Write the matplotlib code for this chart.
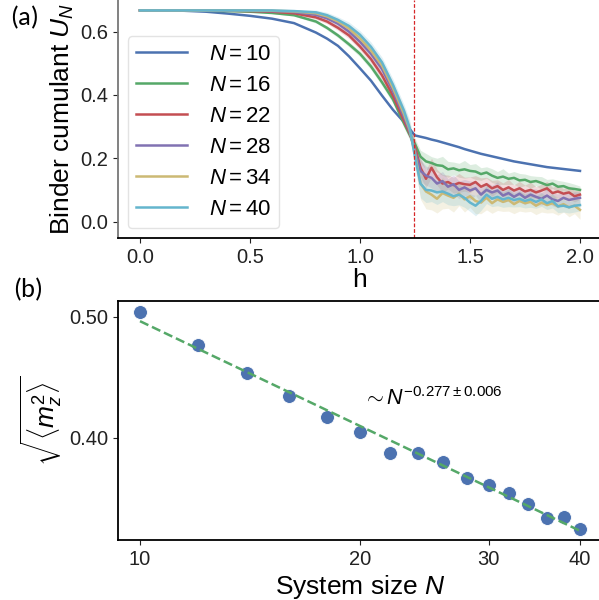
import numpy as np
import matplotlib
matplotlib.use("Agg")
import matplotlib.pyplot as plt
from matplotlib.ticker import FixedLocator, NullLocator, FixedFormatter

plt.rcParams['font.family'] = ['Liberation Sans', 'DejaVu Sans']
plt.rcParams['mathtext.fontset'] = 'custom'
plt.rcParams['mathtext.rm'] = 'Liberation Sans'
plt.rcParams['mathtext.it'] = 'Liberation Sans:italic'
plt.rcParams['mathtext.bf'] = 'Liberation Sans:bold'

# ---------------- data: panel (a) ----------------
h = [0.0, 0.1, 0.2, 0.3, 0.4, 0.5, 0.6, 0.7, 0.8, 0.85, 0.9, 0.95, 1.0, 1.05, 1.1, 1.15, 1.2, 1.225, 1.25,
     1.275, 1.3, 1.325, 1.35, 1.375, 1.4, 1.425, 1.45, 1.475, 1.5, 1.525, 1.55, 1.575, 1.6, 1.625, 1.65,
     1.675, 1.7, 1.725, 1.75, 1.775, 1.8, 1.825, 1.85, 1.875, 1.9, 1.925, 1.95, 1.975, 2.0]

sizes = [10, 16, 22, 28, 34, 40]

U10 = [0.667, 0.667, 0.666, 0.663, 0.657, 0.650, 0.641, 0.627, 0.597, 0.578, 0.555, 0.522, 0.484, 0.445,
       0.398, 0.353, 0.314, 0.293, 0.272,
       0.268, 0.264, 0.259, 0.255, 0.250, 0.245, 0.240, 0.235, 0.229, 0.224, 0.219, 0.214, 0.210, 0.206,
       0.202, 0.198, 0.194, 0.190, 0.187, 0.184, 0.181, 0.178, 0.175, 0.172, 0.170, 0.168, 0.166, 0.164,
       0.162, 0.160]
U16 = [0.667, 0.667, 0.667, 0.666, 0.665, 0.663, 0.659, 0.652, 0.632, 0.612, 0.588, 0.560, 0.530, 0.490,
       0.440, 0.386, 0.310, 0.275, 0.245,
       0.205, 0.190, 0.185, 0.178, 0.176, 0.165, 0.168, 0.162, 0.165, 0.160, 0.158, 0.150, 0.155, 0.145,
       0.138, 0.142, 0.135, 0.138, 0.130, 0.132, 0.125, 0.128, 0.122, 0.115, 0.120, 0.110, 0.112, 0.105,
       0.103, 0.100]
U22 = [0.667, 0.667, 0.667, 0.667, 0.666, 0.665, 0.663, 0.658, 0.645, 0.632, 0.612, 0.588, 0.553, 0.513,
       0.462, 0.397, 0.318, 0.280, 0.235,
       0.170, 0.135, 0.170, 0.140, 0.120, 0.125, 0.115, 0.122, 0.118, 0.116, 0.125, 0.110, 0.118, 0.105,
       0.112, 0.100, 0.108, 0.098, 0.105, 0.095, 0.100, 0.092, 0.098, 0.105, 0.090, 0.095, 0.088, 0.092,
       0.080, 0.085]
U28 = [0.667, 0.667, 0.667, 0.667, 0.667, 0.666, 0.665, 0.662, 0.653, 0.642, 0.625, 0.600, 0.568, 0.530,
       0.482, 0.412, 0.330, 0.285, 0.225,
       0.160, 0.145, 0.138, 0.120, 0.128, 0.110, 0.118, 0.100, 0.108, 0.098, 0.105, 0.085, 0.100, 0.092,
       0.098, 0.082, 0.090, 0.078, 0.088, 0.075, 0.085, 0.078, 0.072, 0.082, 0.070, 0.065, 0.075, 0.068,
       0.072, 0.075]
U34 = [0.667, 0.667, 0.667, 0.667, 0.667, 0.667, 0.666, 0.664, 0.658, 0.648, 0.632, 0.610, 0.579, 0.540,
       0.493, 0.422, 0.340, 0.292, 0.215,
       0.120, 0.095, 0.085, 0.072, 0.090, 0.082, 0.075, 0.088, 0.070, 0.080, 0.065, 0.060, 0.075, 0.058,
       0.070, 0.062, 0.068, 0.055, 0.065, 0.058, 0.062, 0.050, 0.060, 0.052, 0.058, 0.048, 0.055, 0.045,
       0.050, 0.037]
U40 = [0.667, 0.667, 0.667, 0.667, 0.667, 0.667, 0.667, 0.665, 0.661, 0.652, 0.637, 0.618, 0.590, 0.552,
       0.503, 0.432, 0.350, 0.298, 0.205,
       0.120, 0.100, 0.098, 0.092, 0.095, 0.088, 0.080, 0.085, 0.075, 0.060, 0.050, 0.065, 0.085, 0.072,
       0.078, 0.070, 0.075, 0.068, 0.072, 0.065, 0.070, 0.062, 0.070, 0.058, 0.065, 0.048, 0.050, 0.045,
       0.050, 0.052]

E10 = [0, 0, 0, 0, 0, 0, 0, 0, 0, 0, 0, 0, 0, 0, 0, 0, 0, 0, 0,
       0, 0, 0, 0, 0, 0, 0, 0, 0, 0, 0, 0, 0, 0, 0, 0, 0, 0, 0, 0, 0, 0, 0, 0, 0, 0, 0, 0, 0, 0]
E16 = [0, 0, 0, 0, 0, 0, 0.002, 0.003, 0.005, 0.006, 0.007, 0.008, 0.009, 0.010, 0.011, 0.012, 0.014,
       0.015, 0.018,
       0.020, 0.025, 0.020, 0.022, 0.030, 0.025, 0.020, 0.022, 0.028, 0.020, 0.025, 0.020, 0.018, 0.022,
       0.020, 0.025, 0.018, 0.020, 0.022, 0.018, 0.020, 0.015, 0.020, 0.018, 0.015, 0.020, 0.015, 0.018,
       0.015, 0.012]
E22 = [0, 0, 0, 0, 0, 0, 0.002, 0.004, 0.006, 0.007, 0.008, 0.010, 0.011, 0.012, 0.013, 0.014, 0.016,
       0.018, 0.022,
       0.030, 0.028, 0.030, 0.025, 0.028, 0.022, 0.025, 0.030, 0.022, 0.025, 0.020, 0.028, 0.022, 0.025,
       0.020, 0.022, 0.025, 0.018, 0.022, 0.020, 0.025, 0.018, 0.020, 0.022, 0.018, 0.020, 0.016, 0.020,
       0.018, 0.015]
E28 = [0, 0, 0, 0, 0, 0, 0.002, 0.004, 0.006, 0.008, 0.009, 0.010, 0.012, 0.013, 0.014, 0.016, 0.018,
       0.020, 0.025,
       0.035, 0.030, 0.032, 0.028, 0.030, 0.025, 0.030, 0.028, 0.025, 0.030, 0.022, 0.028, 0.025, 0.022,
       0.028, 0.022, 0.025, 0.020, 0.025, 0.022, 0.020, 0.025, 0.020, 0.022, 0.020, 0.022, 0.018, 0.020,
       0.022, 0.018]
E34 = [0, 0, 0, 0, 0, 0, 0.002, 0.004, 0.007, 0.008, 0.010, 0.011, 0.012, 0.014, 0.015, 0.017, 0.020,
       0.025, 0.035,
       0.050, 0.055, 0.048, 0.045, 0.050, 0.040, 0.045, 0.038, 0.040, 0.035, 0.040, 0.035, 0.038, 0.032,
       0.035, 0.030, 0.035, 0.030, 0.032, 0.028, 0.030, 0.028, 0.030, 0.025, 0.030, 0.028, 0.025, 0.030,
       0.025, 0.030]
E40 = [0, 0, 0, 0, 0, 0, 0.002, 0.004, 0.007, 0.009, 0.010, 0.012, 0.013, 0.015, 0.016, 0.018, 0.020,
       0.025, 0.035,
       0.045, 0.040, 0.035, 0.038, 0.032, 0.035, 0.030, 0.032, 0.030, 0.028, 0.032, 0.030, 0.028, 0.025,
       0.028, 0.025, 0.028, 0.022, 0.025, 0.022, 0.025, 0.020, 0.022, 0.020, 0.022, 0.020, 0.020, 0.018,
       0.020, 0.018]

h_crit = 1.244

# ---------------- data: panel (b) ----------------
N_sys = [10, 12, 14, 16, 18, 20, 22, 24, 26, 28, 30, 32, 34, 36, 38, 40]
m_rms = [0.505, 0.475, 0.451, 0.432, 0.4155, 0.404, 0.389, 0.389, 0.3826, 0.371, 0.3663, 0.3608,
         0.3536, 0.345, 0.3456, 0.3378]
fit_label = r'$\sim N^{-0.277 \pm 0.006}$'

colors = ['#4C72B0', '#55A868', '#C44E52', '#8172B2', '#CCB974', '#64B5CD']

fig = plt.figure(figsize=(5.99, 6.0), dpi=100)
W, H = 599.0, 600.0
axA = fig.add_axes([118 / W, 1 - 238 / H, 484 / W, 238 / H])
axB = fig.add_axes([118 / W, 1 - 540 / H, 484 / W, 239 / H])

hv = np.array(h)
for N, U, E, c in zip(sizes, [U10, U16, U22, U28, U34, U40], [E10, E16, E22, E28, E34, E40], colors):
    U = np.array(U)
    E = np.array(E)
    axA.fill_between(hv, U - E, U + E, color=c, alpha=0.2, lw=0)
    axA.plot(hv, U, color=c, lw=1.8, label=r'$N = %d$' % N)
axA.axvline(h_crit, color='#d62728', ls=(0, (3, 1.5)), lw=0.9)

axA.set_xlim(-0.1, 2.1)
axA.set_ylim(-0.052, 0.70)
axA.set_xticks([0.0, 0.5, 1.0, 1.5, 2.0])
axA.set_yticks([0.0, 0.2, 0.4, 0.6])
axA.tick_params(labelsize=14.5, length=3.5, width=0.8, colors='#222222')
axA.spines['top'].set_visible(False)
axA.spines['right'].set_visible(False)
axA.spines['left'].set_color('#777777')
axA.spines['left'].set_linewidth(1.3)
axA.spines['bottom'].set_linewidth(1.3)
axA.set_xlabel('h', fontsize=19, labelpad=1)
axA.set_ylabel(r'Binder cumulant $U_N$', fontsize=19, labelpad=3)
leg = axA.legend(loc='lower left', fontsize=16, handlelength=2.3, labelspacing=0.45,
                 borderaxespad=0.45, handletextpad=1.0, borderpad=0.35, frameon=True, fancybox=True)
leg.get_frame().set_edgecolor('#dddddd')

# panel (b)
axB.scatter(N_sys, m_rms, s=100, color=colors[0], edgecolor='white', linewidth=0.6, zorder=2)
Nv = np.array(N_sys, dtype=float)
p = np.polyfit(np.log(Nv), np.log(np.array(m_rms)), 1)
axB.plot(Nv, np.exp(np.polyval(p, np.log(Nv))), ls='--', color=colors[1], lw=1.8, zorder=3)
axB.set_xscale('log')
axB.set_yscale('log')
axB.xaxis.set_major_locator(FixedLocator([10, 20, 30, 40]))
axB.xaxis.set_major_formatter(FixedFormatter(['10', '20', '30', '40']))
axB.xaxis.set_minor_locator(NullLocator())
axB.yaxis.set_major_locator(FixedLocator([0.40, 0.50]))
axB.yaxis.set_major_formatter(FixedFormatter(['0.40', '0.50']))
axB.yaxis.set_minor_locator(NullLocator())
axB.set_xlim(10 * 2 ** -0.1, 40 * 2 ** 0.1)
axB.set_ylim(0.331, 0.515)
axB.tick_params(labelsize=14.5, length=3.5, width=0.8, colors='#222222')
for s in axB.spines.values():
    s.set_linewidth(1.3)
axB.set_xlabel(r'System size $N$', fontsize=19, labelpad=3)
axB.set_ylabel(r'$\sqrt{\langle m_z^2 \rangle}$', fontsize=19, labelpad=3)
axB.text(20.2, 0.425, fit_label, fontsize=15.5, ha='left', va='baseline')

fig.text(24 / W, 1 - 18 / H, '(a)', fontsize=19, family=['Carlito', 'Lato', 'DejaVu Sans'],
         ha='center', va='center')
fig.text(28 / W, 1 - 290 / H, '(b)', fontsize=19, family=['Carlito', 'Lato', 'DejaVu Sans'],
         ha='center', va='center')

fig.savefig('out.png', dpi=100)
